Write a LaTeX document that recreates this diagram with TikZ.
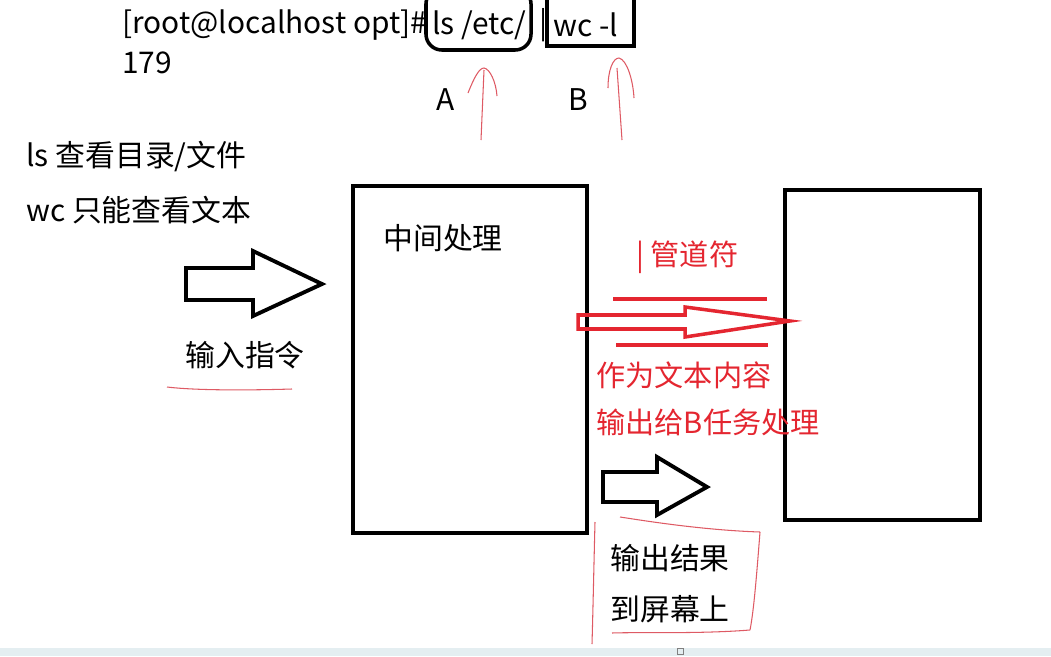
\documentclass[tikz,border=0pt]{standalone}
\usepackage{fontspec}
\setmainfont{Noto Sans CJK SC}
\usetikzlibrary{positioning}
\definecolor{penred}{RGB}{228,38,48}
\definecolor{inkred}{RGB}{222,90,100}
\definecolor{bandgray}{RGB}{228,238,241}
\tikzset{%
	txt/.style      = {anchor=west, inner sep=0pt, font=\fontsize{17}{20}\selectfont}, % black text
	redtxt/.style   = {txt, text=penred, font=\fontsize{16.6}{20}\selectfont}, % red notes
	box/.style      = {draw, rectangle, line width=2.1pt}, % process box
	fatarrow/.style = {draw, line width=2.2pt, line join=miter}, % hollow arrow
	redline/.style  = {draw=penred, line width=2pt}, % pipe strokes
	pen/.style      = {draw=inkred, line width=0.6pt}, % hand strokes
}
\begin{document}
\begin{tikzpicture}[x=0.02cm, y=-0.02cm]
	\useasboundingbox (0,0) rectangle (1051,656);
	% command line
	\node[txt] (prompt) at (122,25) {[root@localhost opt]\#};
	\node[txt] (cmdA) at (432,25) {ls /etc/};
	\node[txt] (pipe) at (539,25) {|};
	\node[txt] (cmdB) at (553,25) {wc -l};
	\node[txt] (count) at (122,63) {179};
	\draw[line width=2pt, rounded corners=9] (426,-12) rectangle (531,50);
	\draw[line width=2pt] (547,-12) rectangle (634,46);
	\node[txt] (lblA) at (436,100) {A};
	\node[txt] (lblB) at (568,100) {B};
	\draw[pen] (481,140) -- (484,70);
	\draw[pen] (468,93) .. controls (474,78) and (479,68) .. (484,68) .. controls (490,69) and (496,82) .. (497,96);
	\draw[pen] (622,140) -- (617,68);
	\draw[pen] (608,88) .. controls (608,70) and (613,58) .. (619,58) .. controls (627,60) and (633,80) .. (634,98);
	% notes on the left
	\node[txt] (noteLs) at (26,157) {ls 查看目录/文件};
	\node[txt] (noteWc) at (26,210) {wc 只能查看文本};
	\draw[fatarrow] (186,268) -- (253,268) -- (253,251) -- (322,284) -- (253,316) -- (253,300) -- (186,300) -- cycle;
	\node[txt] (input) at (185,355) {输入指令};
	\draw[pen] (167,387) .. controls (200,391) and (260,390) .. (292,389);
	% the two boxes
	\node[box, minimum width=4.68cm, minimum height=6.94cm] (mid) at (470,359.5) {};
	\node[txt] (midLbl) at (383,238) {中间处理};
	\node[box, minimum width=3.9cm, minimum height=6.6cm] (taskB) at (882.5,355) {};
	% pipe
	\node[redtxt] (pipeLbl) at (636,257) {| 管道符};
	\draw[redline] (613,299) -- (767,299);
	\draw[redline] (616,345) -- (768,345);
	\draw[redline, line join=miter] (578,315) -- (685,315) -- (685,307) -- (790,321) -- (685,337) -- (685,329) -- (578,329) -- cycle;
	\node[redtxt] (asText) at (596,375) {作为文本内容};
	\node[redtxt] (toB) at (596,422) {输出给B任务处理};
	% output to screen
	\draw[fatarrow] (603,472) -- (657,472) -- (657,457) -- (707,487) -- (657,515) -- (657,502) -- (603,502) -- cycle;
	\node[txt] (outA) at (610,558) {输出结果};
	\node[txt] (outB) at (610,609) {到屏幕上};
	\draw[pen] (595,522) .. controls (594,560) and (593,610) .. (592,644);
	\draw[pen] (620,517) .. controls (640,520) and (700,530) .. (760,532);
	\draw[pen] (760,532) .. controls (757,570) and (754,610) .. (750,630);
	\draw[pen] (750,630) .. controls (700,634) and (640,632) .. (612,633);
	% bottom strip
	\fill[bandgray] (0,648) rectangle (1051,656);
	\draw[gray, line width=0.5pt] (677,648) rectangle (683,654);
\end{tikzpicture}
\end{document}
